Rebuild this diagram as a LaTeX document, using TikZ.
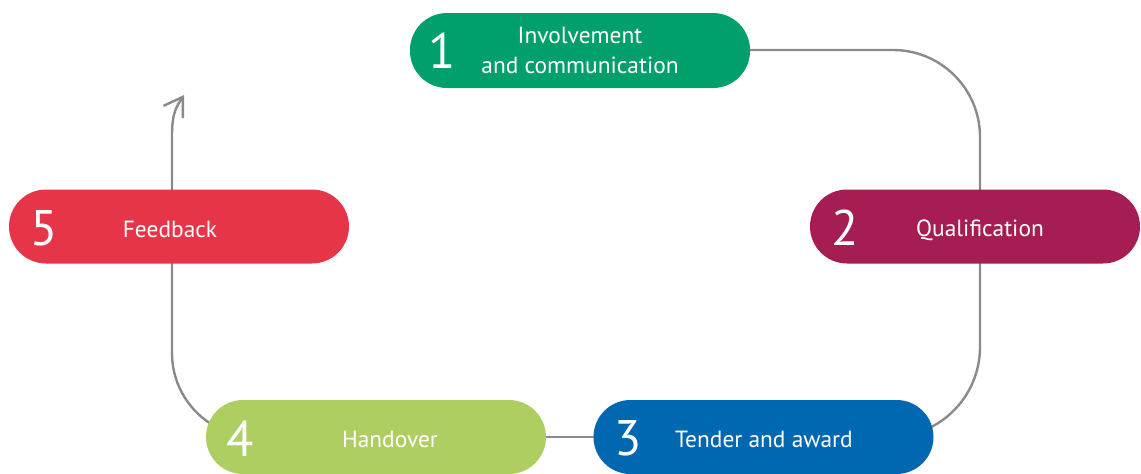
\documentclass[tikz,border=0pt]{standalone}
\usepackage{fontspec}
\setmainfont{PT Sans}
\usetikzlibrary{arrows.meta}
\definecolor{cgreen}{HTML}{009F6B}
\definecolor{cmag}{HTML}{A51D53}
\definecolor{cblue}{HTML}{0067B1}
\definecolor{clime}{HTML}{AFCE62}
\definecolor{cred}{HTML}{E63548}
\definecolor{cline}{HTML}{8A8A8A}
\begin{document}
\begin{tikzpicture}[x=1pt,y=1pt,
  pill/.style={inner sep=0pt, minimum width=340pt, minimum height=74pt, rounded corners=37pt},
  num/.style={text=white, font=\fontsize{50}{50}\selectfont, inner sep=0pt},
  lbl/.style={text=white, font=\fontsize{23.4}{30}\selectfont, inner sep=0pt, align=center},
  conn/.style={draw=cline, line width=2.4pt}]
\useasboundingbox (0,0) rectangle (1141,-474);
\fill[white] (0,0) rectangle (1141,-474);
\coordinate (c2) at (980,-226);
\coordinate (c5) at (172,-226);
\coordinate (c5top) at (172,-135);
\coordinate (tip) at (184,-95);
\coordinate (p1) at (580,-50);
\coordinate (p3) at (763,-437);
\coordinate (p4) at (376,-437);
% connectors
\draw[conn, rounded corners=87pt] (p1) -| (c2);
\draw[conn, rounded corners=90pt] (c2) |- (p3);
\draw[conn] (p3) -- (p4);
\draw[conn, -{Straight Barb[length=18pt,width=23pt]}] (p4) [rounded corners=84pt] -| (c5) [sharp corners] -- (c5top) .. controls (172,-112) and (177,-106) .. (tip);
% boxes
\node[pill, fill=cgreen, minimum height=75pt] (b1) at (580,-50.5) {};
\node[pill, fill=cmag, minimum width=330pt] (b2) at (975,-226.5) {};
\node[pill, fill=cblue] (b3) at (763.5,-437) {};
\node[pill, fill=clime] (b4) at (376,-437) {};
\node[pill, fill=cred] (b5) at (179,-226.5) {};
% numbers
\node[num] (n1) at (442,-51) {1};
\node[num] (n2) at (845,-228) {2};
\node[num] (n3) at (628,-438.5) {3};
\node[num] (n4) at (240,-439) {4};
\node[num] (n5) at (44,-228) {5};
% labels
\node[lbl, anchor=base] (t1) at (580,-73) {Involvement\\and communication};
\node[lbl, anchor=base] (t2) at (980,-236) {Qualification};
\node[lbl, anchor=base] (t3) at (764,-447) {Tender and award};
\node[lbl, anchor=base] (t4) at (390,-447) {Handover};
\node[lbl, anchor=base] (t5) at (170,-237) {Feedback};
\end{tikzpicture}
\end{document}
